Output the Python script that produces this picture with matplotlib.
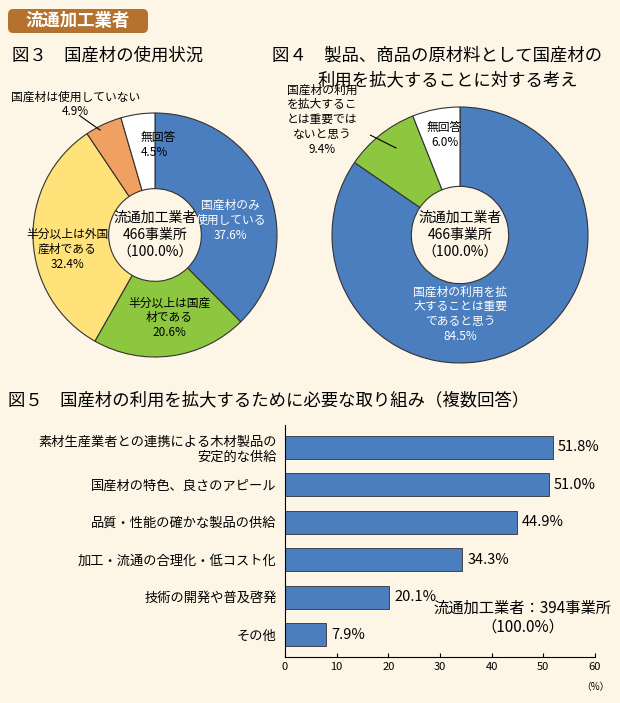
import matplotlib.pyplot as plt
from matplotlib.patches import FancyBboxPatch

plt.rcParams['font.family'] = 'Noto Sans CJK JP'

# 図3
use_labels = ['国産材のみ\n使用している', '半分以上は国産\n材である', '半分以上は外国\n産材である',
              '国産材は使用していない', '無回答']
use_vals = [37.6, 20.6, 32.4, 4.9, 4.5]
use_colors = ['#4a7ebf', '#8dc63f', '#ffe27a', '#f0a060', '#ffffff']

# 図4
view_vals = [84.5, 9.4, 6.0]
view_colors = ['#4a7ebf', '#8dc63f', '#ffffff']

# 図5
bar_labels = ['素材生産業者との連携による木材製品の\n安定的な供給', '国産材の特色、良さのアピール',
              '品質・性能の確かな製品の供給', '加工・流通の合理化・低コスト化',
              '技術の開発や普及啓発', 'その他']
bar_vals = [51.8, 51.0, 44.9, 34.3, 20.1, 7.9]
xticks = [0, 10, 20, 30, 40, 50, 60]

bg = '#fdf6e6'
W, H = 620, 703
fig = plt.figure(figsize=(6.2, 7.03), dpi=100, facecolor=bg)

def fx(x): return x / W
def fy(y): return 1 - y / H

# header
fig.patches.append(FancyBboxPatch((fx(8), fy(33)), fx(140), 24 / H, boxstyle='round,pad=0,rounding_size=0.008',
                                  transform=fig.transFigure, facecolor='#b5722f', edgecolor='none'))
fig.text(fx(78), fy(21), '流通加工業者', color='white', fontsize=12.5, weight='bold', ha='center', va='center')

fig.text(fx(12), fy(56), '図３　国産材の使用状況', fontsize=12.5, va='center')
fig.text(fx(272), fy(56), '図４　製品、商品の原材料として国産材の', fontsize=12.5, va='center')
fig.text(fx(318), fy(80), '利用を拡大することに対する考え', fontsize=12.5, va='center')
fig.text(fx(8), fy(400), '図５　国産材の利用を拡大するために必要な取り組み（複数回答）', fontsize=12.5, va='center')

wp = dict(width=0.62, edgecolor='#333333', linewidth=0.8)
fs = 8.5

# pie 1
ax1 = fig.add_axes([fx(33), fy(357), 244 / W, 244 / H])
ax1.pie(use_vals, colors=use_colors, startangle=90, counterclock=False, wedgeprops=wp)
ax1.set_xlim(-1, 1)
ax1.set_ylim(-1, 1)
ax1.set_aspect('equal')
ax1.text(0, 0, '流通加工業者\n466事業所\n（100.0%）', ha='center', va='center', fontsize=10, linespacing=1.3)
ax1.text(0.62, 0.12, f'{use_labels[0]}\n{use_vals[0]}%', color='white', ha='center', va='center', fontsize=fs)
ax1.text(0.12, -0.68, f'{use_labels[1]}\n{use_vals[1]}%', ha='center', va='center', fontsize=fs)
ax1.text(-0.72, -0.12, f'{use_labels[2]}\n{use_vals[2]}%', ha='center', va='center', fontsize=fs)
ax1.text(-1.18, 1.07, f'{use_labels[3]}\n{use_vals[3]}%', ha='left', va='center', fontsize=fs,
         multialignment='center', clip_on=False)
ax1.plot([-0.62, -0.45], [0.98, 0.86], color='k', lw=0.8, clip_on=False)
ax1.text(-0.12, 0.74, f'{use_labels[4]}\n{use_vals[4]}%', ha='left', va='center', fontsize=fs)

# pie 2
ax2 = fig.add_axes([fx(332), fy(363), 256 / W, 256 / H])
ax2.pie(view_vals, colors=view_colors, startangle=90, counterclock=False, wedgeprops=wp)
ax2.set_xlim(-1, 1)
ax2.set_ylim(-1, 1)
ax2.set_aspect('equal')
ax2.text(0, 0, '流通加工業者\n466事業所\n（100.0%）', ha='center', va='center', fontsize=10, linespacing=1.3)
ax2.text(0.0, -0.62, f'国産材の利用を拡\n大することは重要\nであると思う\n{view_vals[0]}%', color='white',
         ha='center', va='center', fontsize=fs)
ax2.text(-1.08, 0.9, f'国産材の利用\nを拡大するこ\nとは重要では\nないと思う\n{view_vals[1]}%',
         ha='center', va='center', fontsize=fs, clip_on=False)
ax2.plot([-0.7, -0.5], [0.78, 0.68], color='k', lw=0.8, clip_on=False)
ax2.text(-0.12, 0.78, f'無回答\n{view_vals[2]}%', ha='center', va='center', fontsize=fs)

# bars
ax3 = fig.add_axes([fx(285), fy(657), 310 / W, 232 / H])
ax3.set_facecolor(bg)
y = list(range(len(bar_vals)))[::-1]
ax3.barh(y, bar_vals, height=0.62, color='#4a7ebf', edgecolor='#333333', linewidth=0.6)
for yi, v in zip(y, bar_vals):
    ax3.text(v + 1, yi, f'{v}%', va='center', fontsize=10.5)
ax3.set_yticks(y)
ax3.set_yticklabels(bar_labels, fontsize=9.5, multialignment='right')
ax3.tick_params(axis='y', length=0, pad=6)
ax3.set_xticks(xticks)
ax3.tick_params(axis='x', labelsize=8, direction='in', length=3)
ax3.set_xlim(0, 60)
ax3.set_ylim(-0.6, len(bar_vals) - 0.4)
for s in ['top', 'right']:
    ax3.spines[s].set_visible(False)
ax3.text(60, -0.11, '（%）', transform=ax3.get_xaxis_transform(), ha='center', va='top', fontsize=7)
ax3.text(46, 0.45, '流通加工業者：394事業所\n（100.0%）', ha='center', va='center', fontsize=11)

fig.savefig('out.png', dpi=100, facecolor=bg)
